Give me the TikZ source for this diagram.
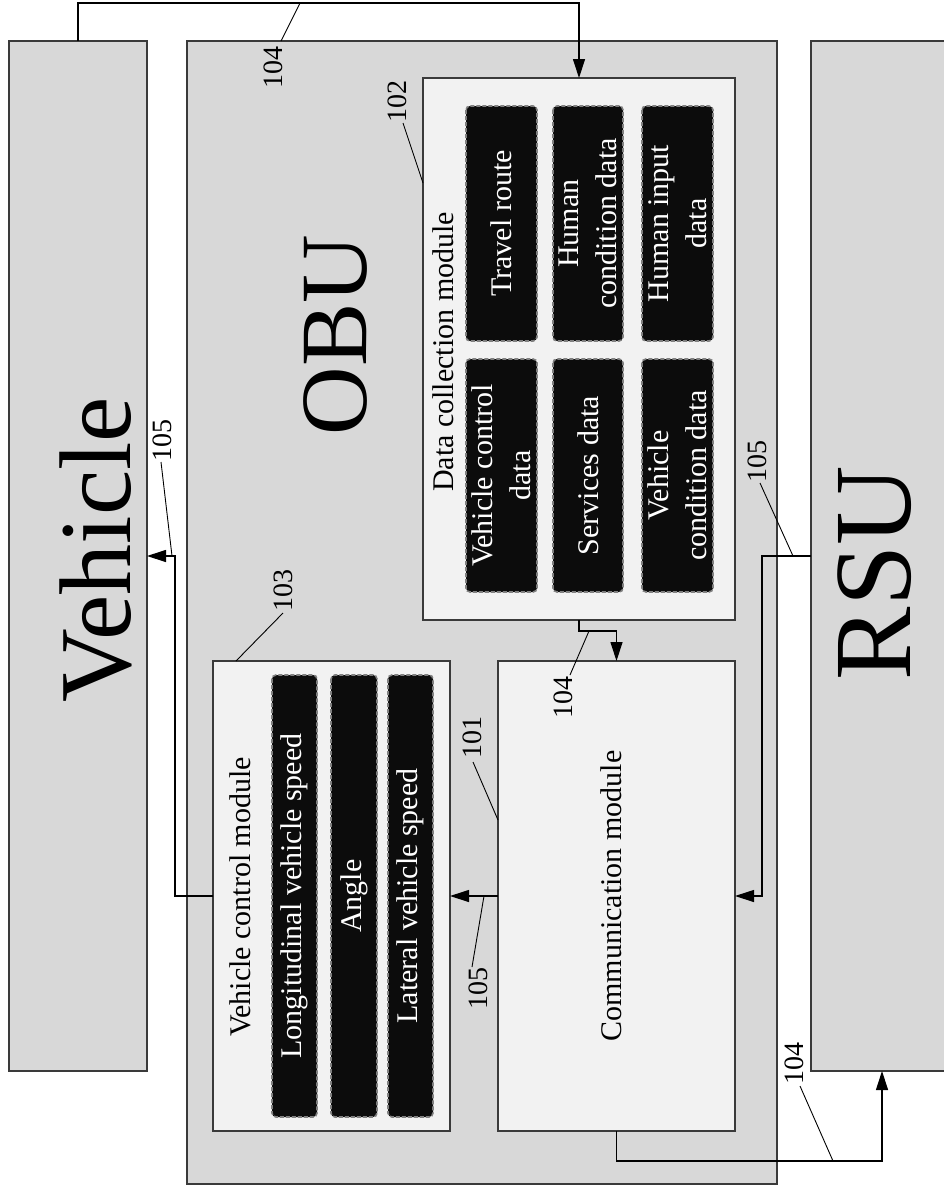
\documentclass[tikz,border=0pt]{standalone}
\usepackage{fontspec}
\setmainfont{Liberation Serif}
\usetikzlibrary{arrows.meta,calc}
\definecolor{outergray}{HTML}{D8D8D8}
\definecolor{innergray}{HTML}{F2F2F2}
\definecolor{boxline}{HTML}{3A3A3A}
\definecolor{blackbox}{HTML}{0C0C0C}
\definecolor{dashgray}{HTML}{808080}
\begin{document}
\begin{tikzpicture}[x=1pt,y=-1pt,
  bigbox/.style={draw=boxline,line width=1.4pt,fill=outergray,inner sep=0pt,outer sep=0pt},
  modbox/.style={draw=boxline,line width=1.4pt,fill=innergray,inner sep=0pt,outer sep=0pt},
  blk/.style={draw=dashgray,dash pattern=on 4pt off 2pt,line width=1.6pt,fill=blackbox,rounded corners=4pt,
    text=white,rotate=90,align=center,font=\fontsize{30}{38}\selectfont,inner sep=0pt,outer sep=0pt},
  title/.style={rotate=90,anchor=base,font=\fontsize{30}{36}\selectfont,inner sep=0pt},
  huge/.style={rotate=90,anchor=base,inner sep=0pt},
  lab/.style={rotate=90,font=\fontsize{28}{28}\selectfont,inner sep=1pt},
  conn/.style={draw=black,line width=1.2pt},
  arr/.style={conn,-{Triangle[length=19pt,width=12pt]}},
  lead/.style={draw=black,line width=0.9pt}
]
\useasboundingbox (0,0) rectangle (944,1191);
\clip (0,0) rectangle (944,1191);
\fill[white] (0,0) rectangle (944,1191);

% main blocks
\node[bigbox,minimum width=138pt,minimum height=1030pt] (veh) at (78,556) {};
\node[bigbox,minimum width=590pt,minimum height=1143pt] (obu) at (482,612.5) {};
\node[bigbox,minimum width=142pt,minimum height=1030pt] (rsu) at (882,556) {};

\node[huge,font=\fontsize{102}{102}\selectfont] (vehtxt) at (130,550) {Vehicle};
\node[huge,font=\fontsize{95}{95}\selectfont] (obutxt) at (366,335) {OBU};
\node[huge,font=\fontsize{110}{110}\selectfont] (rsutxt) at (910,573) {RSU};

% modules
\node[modbox,minimum width=312pt,minimum height=542pt] (dcm) at (579,349) {};
\node[modbox,minimum width=237pt,minimum height=470pt] (vcm) at (331.5,896) {};
\node[modbox,minimum width=237pt,minimum height=470pt] (cm) at (616.5,896) {};

\node[title] (dcmtxt) at (453,352) {Data collection module};
\node[title] (vcmtxt) at (250,897) {Vehicle control module};
\node[title] (cmtxt) at (621,896) {Communication module};

% data collection items
\node[blk,minimum width=235pt,minimum height=71pt] (d11) at (501.5,223.5) {Travel route};
\node[blk,minimum width=233pt,minimum height=71pt] (d12) at (501.5,475.5) {Vehicle control\\data};
\node[blk,minimum width=235pt,minimum height=70pt] (d21) at (588,223.5) {Human\\condition data};
\node[blk,minimum width=233pt,minimum height=70pt] (d22) at (588,475.5) {Services data};
\node[blk,minimum width=235pt,minimum height=71pt] (d31) at (677.5,223.5) {Human input\\data};
\node[blk,minimum width=233pt,minimum height=71pt] (d32) at (677.5,475.5) {Vehicle\\condition data};

% vehicle control items
\node[blk,minimum width=442pt,minimum height=45pt] (v1) at (294.5,896) {Longitudinal vehicle speed};
\node[blk,minimum width=442pt,minimum height=46pt] (v2) at (354,896) {Angle};
\node[blk,minimum width=442pt,minimum height=45pt] (v3) at (410.5,896) {Lateral vehicle speed};

% connectors
\draw[arr] (veh.north) -- ++(0,-38) -| (dcm.north);
\draw[arr] (dcm.south) -- ++(0,11) -| (cm.north);
\draw[arr] (vcm.west) -- ++(-38,0) |- (veh.east);
\draw[arr] (cm.west) -- (vcm.east);
\draw[arr] (rsu.west) -- ++(-49,0) |- (cm.east);
\draw[arr] (cm.south) -- ++(0,30) -| (rsu.south);

% reference labels
\node[lab] (l104a) at (273.5,67) {104};
\coordinate (a1) at (281,41); \coordinate (a2) at (300,3);
\draw[lead] (a1) -- (a2);

\node[lab] (l102) at (397,101) {102};
\coordinate (b1) at (403,123); \coordinate (b2) at (423,183);
\draw[lead] (b1) -- (b2);

\node[lab] (l103) at (283,590) {103};
\coordinate (c1) at (283,613); \coordinate (c2) at (236,661);
\draw[lead] (c1) -- (c2);

\node[lab] (l101) at (472,737) {101};
\coordinate (e1) at (473,762); \coordinate (e2) at (498,820);
\draw[lead] (e1) -- (e2);

\node[lab] (l104b) at (563,697) {104};
\coordinate (f1) at (570,675); \coordinate (f2) at (589,631);
\draw[lead] (f1) -- (f2);

\node[lab] (l105a) at (162,440) {105};
\coordinate (g1) at (161,462); \coordinate (g2) at (172,556);
\draw[lead] (g1) -- (g2);

\node[lab] (l105b) at (478,988) {105};
\coordinate (h1) at (472,967); \coordinate (h2) at (484,896);
\draw[lead] (h1) -- (h2);

\node[lab] (l105c) at (757,461) {105};
\coordinate (i1) at (760,483); \coordinate (i2) at (793,556);
\draw[lead] (i1) -- (i2);

\node[lab] (l104c) at (794,1063) {104};
\coordinate (j1) at (800,1086); \coordinate (j2) at (833,1161);
\draw[lead] (j1) -- (j2);
\end{tikzpicture}
\end{document}
